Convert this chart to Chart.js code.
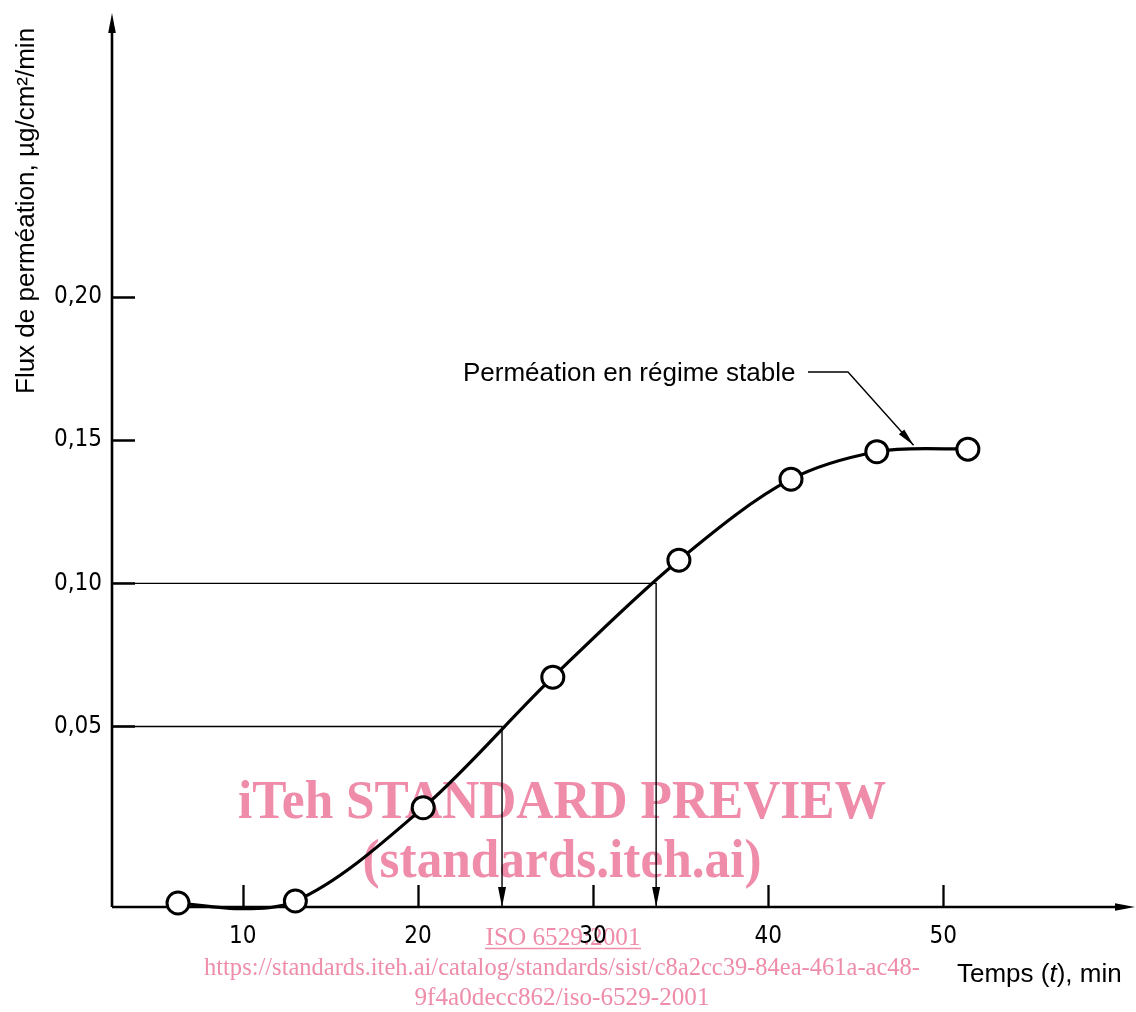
<!DOCTYPE html>
<html>
<head>
<meta charset="utf-8">
<script src="https://cdn.jsdelivr.net/npm/chart.js@4/dist/chart.umd.min.js"></script>
<style>
  html, body { margin: 0; padding: 0; background: #fff; }
  canvas { display: block; }
</style>
</head>
<body>
<canvas id="permChart" width="1136" height="1012"></canvas>
<script>
// measured points (time in min, flux in µg/cm²/min)
const times = [6.3, 13.0, 20.3, 27.7, 34.9, 41.3, 46.2, 51.4];
const flux = [-0.0117, -0.0110, 0.0216, 0.0672, 0.1081, 0.1364, 0.1460, 0.1469];

// hand-drawn curve
const curveTimes = [6.3, 10.0, 13.0, 20.3, 27.7, 34.9, 41.3, 46.2, 49.0, 51.4];
const curveFlux = [-0.0117, -0.0137, -0.0110, 0.0216, 0.0672, 0.1081, 0.1364, 0.1460, 0.1471, 0.1469];

// construction lines: flux level -> time where it meets the curve
const levels = [0.05, 0.10];
const levelTimes = [24.8, 33.6];

const xTicks = [10, 20, 30, 40, 50];
const yTicks = [0.05, 0.10, 0.15, 0.20];

const xMin = 2.53, xMax = 61.0;
const yMin = -0.0131, yMax = 0.2993;

const pink = '#ee8ca9';
const sansFont = "'Liberation Sans', Arial, sans-serif";
const narrowFont = "'Liberation Sans Narrow', 'DejaVu Sans Condensed', sans-serif";
const serifFont = "'Liberation Serif', 'Times New Roman', serif";

const toXY = (xs, ys) => xs.map((x, i) => ({ x, y: ys[i] }));

const levelSets = levels.map((lv, i) => ({
  data: [{ x: xMin, y: lv }, { x: levelTimes[i], y: lv }, { x: levelTimes[i], y: yMin }],
  borderColor: '#000',
  borderWidth: 1.4,
  pointRadius: 0,
  tension: 0,
  clip: false,
  order: 2
}));

function arrowHead(ctx, tipX, tipY, fromX, fromY, len, half) {
  const a = Math.atan2(tipY - fromY, tipX - fromX);
  ctx.save();
  ctx.translate(tipX, tipY);
  ctx.rotate(a);
  ctx.beginPath();
  ctx.moveTo(0, 0);
  ctx.lineTo(-len, -half);
  ctx.lineTo(-len, half);
  ctx.closePath();
  ctx.fill();
  ctx.restore();
}

function fitText(ctx, text, cx, baseline, width) {
  const w = ctx.measureText(text).width;
  ctx.save();
  ctx.translate(cx, baseline);
  ctx.scale(width / w, 1);
  ctx.textAlign = 'center';
  ctx.fillText(text, 0, 0);
  ctx.restore();
}

// watermark sits under everything
const watermark = {
  id: 'watermark',
  beforeDraw(chart) {
    const ctx = chart.ctx;
    ctx.save();
    ctx.fillStyle = pink;
    ctx.strokeStyle = pink;
    ctx.textBaseline = 'alphabetic';
    ctx.font = 'bold 54px ' + serifFont;
    fitText(ctx, 'iTeh STANDARD PREVIEW', 562, 818, 648);
    fitText(ctx, '(standards.iteh.ai)', 562, 877, 399);
    ctx.font = '26px ' + serifFont;
    fitText(ctx, 'ISO 6529:2001', 563, 945, 155);
    ctx.lineWidth = 1.5;
    ctx.beginPath();
    ctx.moveTo(485, 948.5);
    ctx.lineTo(641, 948.5);
    ctx.stroke();
    fitText(ctx, 'https://standards.iteh.ai/catalog/standards/sist/c8a2cc39-84ea-461a-ac48-', 562, 975, 716);
    fitText(ctx, '9f4a0decc862/iso-6529-2001', 562, 1005, 295);
    ctx.restore();
  }
};

// axes with arrows, tick marks, titles, arrowheads and the callout
const drawing = {
  id: 'drawing',
  beforeDatasetsDraw(chart) {
    const ctx = chart.ctx;
    const xs = chart.scales.x, ys = chart.scales.y;
    const left = chart.chartArea.left, bottom = chart.chartArea.bottom;
    const top = chart.chartArea.top, right = chart.chartArea.right;
    ctx.save();
    ctx.strokeStyle = '#000';
    ctx.fillStyle = '#000';
    ctx.lineWidth = 2.6;
    ctx.beginPath();
    ctx.moveTo(left, bottom);
    ctx.lineTo(left, top + 10);
    ctx.moveTo(left, bottom);
    ctx.lineTo(right - 10, bottom);
    ctx.stroke();
    arrowHead(ctx, left, top, left, bottom, 20, 3.8);
    arrowHead(ctx, right - 1, bottom, left, bottom, 20, 3.8);

    ctx.lineWidth = 2.3;
    ctx.beginPath();
    yTicks.forEach(v => {
      const py = Math.round(ys.getPixelForValue(v)) + 0.5;
      ctx.moveTo(left, py);
      ctx.lineTo(left + 23, py);
    });
    xTicks.forEach(v => {
      const px = Math.round(xs.getPixelForValue(v)) + 0.5;
      ctx.moveTo(px, bottom);
      ctx.lineTo(px, bottom - 22);
    });
    ctx.stroke();

    // arrowheads at the foot of the construction lines
    levelTimes.forEach(t => {
      const px = xs.getPixelForValue(t);
      arrowHead(ctx, px, bottom, px, bottom - 50, 20, 4);
    });

    // y title
    ctx.font = '26px ' + sansFont;
    ctx.textAlign = 'left';
    ctx.textBaseline = 'alphabetic';
    ctx.save();
    ctx.translate(34, 394);
    ctx.rotate(-Math.PI / 2);
    ctx.fillText('Flux de perméation, µg/cm²/min', 0, 0);
    ctx.restore();

    // x title with italic t
    let tx = 957;
    const ty = 982;
    const parts = [['Temps (', ''], ['t', 'italic '], ['), min', '']];
    parts.forEach(([s, style]) => {
      ctx.font = style + '26px ' + sansFont;
      ctx.fillText(s, tx, ty);
      tx += ctx.measureText(s).width;
    });

    // steady-state callout
    ctx.font = '26px ' + sansFont;
    ctx.fillText('Perméation en régime stable', 463, 381);
    const tipX = xs.getPixelForValue(48.3);
    const tipY = ys.getPixelForValue(0.1472) - 3;
    ctx.lineWidth = 1.4;
    ctx.beginPath();
    ctx.moveTo(808, 372);
    ctx.lineTo(848, 372);
    ctx.lineTo(tipX, tipY);
    ctx.stroke();
    arrowHead(ctx, tipX, tipY, 848, 372, 18, 3.6);
    ctx.restore();
  }
};

const ctx = document.getElementById('permChart').getContext('2d');
new Chart(ctx, {
  type: 'line',
  data: {
    datasets: [
      {
        data: toXY(times, flux),
        showLine: false,
        pointRadius: 11,
        pointBorderWidth: 3,
        pointBackgroundColor: '#fff',
        pointBorderColor: '#000',
        clip: false,
        order: 0
      },
      {
        data: toXY(curveTimes, curveFlux),
        borderColor: '#000',
        borderWidth: 3.2,
        pointRadius: 0,
        cubicInterpolationMode: 'monotone',
        clip: false,
        order: 1
      },
      ...levelSets
    ]
  },
  options: {
    responsive: false,
    animation: false,
    devicePixelRatio: 1,
    layout: { autoPadding: false, padding: { top: 13, right: 0, bottom: 0, left: 0 } },
    plugins: {
      legend: { display: false },
      tooltip: { enabled: false }
    },
    scales: {
      x: {
        type: 'linear',
        min: xMin,
        max: xMax,
        grid: { display: false, drawTicks: false },
        border: { display: false },
        afterBuildTicks: s => { s.ticks = xTicks.map(v => ({ value: v })); },
        afterFit: s => {
          s.height = 105;
          s.paddingLeft = 0;
          s.paddingRight = 0;
        },
        ticks: {
          color: '#000',
          padding: 15,
          maxRotation: 0,
          font: { family: narrowFont, size: 24 },
          callback: v => String(v)
        }
      },
      y: {
        type: 'linear',
        min: yMin,
        max: yMax,
        grid: { display: false, drawTicks: false },
        border: { display: false },
        afterBuildTicks: s => { s.ticks = yTicks.map(v => ({ value: v })); },
        afterFit: s => {
          s.width = 112;
          s.paddingTop = 0;
          s.paddingBottom = 0;
        },
        ticks: {
          color: '#000',
          padding: 10,
          font: { family: narrowFont, size: 24 },
          callback: v => v.toFixed(2).replace('.', ',')
        }
      }
    }
  },
  plugins: [watermark, drawing]
});
</script>
</body>
</html>
